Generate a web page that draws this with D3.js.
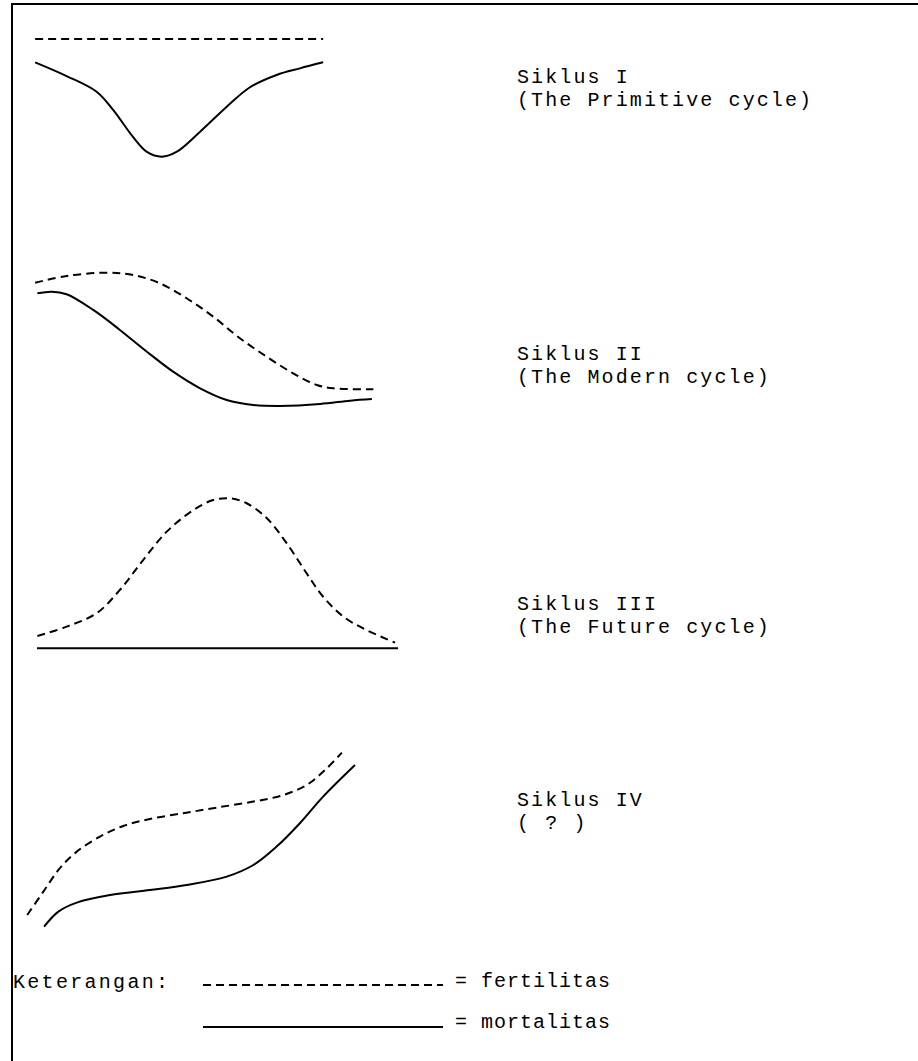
<!DOCTYPE html>
<html><head><meta charset="utf-8">
<script src="https://cdn.jsdelivr.net/npm/d3@7"></script>
<style>html,body{margin:0;padding:0;background:#fff;}svg{display:block;}</style>
</head><body>
<svg id="c" width="918" height="1061"></svg>
<script>
// ---- data (time index 0-100, relative level 0-100) ----
const cycleLabels = ["Siklus I", "Siklus II", "Siklus III", "Siklus IV"];
const cycleSubLabels = ["(The Primitive cycle)", "(The Modern cycle)", "(The Future cycle)", "( ? )"];

const c1FertT = [2.7, 79.5];
const c1FertV = [93.6, 93.6];
const c1MortT = [2.7, 11.1, 19.1, 23.5, 28.8, 32.5, 36.5, 40.5, 46.7, 53.8, 60.0, 67.1, 73.3, 79.5];
const c1MortV = [76.9, 67.1, 55.9, 42.9, 23.6, 12.9, 9.5, 13.1, 27.4, 45.2, 59.1, 67.9, 72.6, 76.9];

const c2FertT = [2.7, 11.1, 21.8, 28.9, 36.0, 43.1, 50.2, 57.3, 64.4, 71.5, 77.8, 82.2, 92.9];
const c2FertV = [85.8, 90.0, 92.1, 90.6, 85.4, 76.1, 64.6, 51.1, 39.6, 29.2, 21.9, 19.8, 19.2];
const c2MortT = [3.3, 7.1, 11.1, 18.2, 25.3, 32.5, 39.5, 46.7, 53.8, 60.9, 68.0, 78.7, 86.7, 92.5];
const c2MortV = [79.2, 80.2, 78.6, 68.8, 56.3, 42.7, 30.2, 19.8, 12.5, 9.4, 8.8, 10.0, 12.1, 13.1];

const c3FertT = [3.3, 11.1, 19.1, 25.3, 31.5, 37.8, 44.9, 50.2, 54.7, 59.1, 64.5, 69.8, 75.1, 79.5, 84.9, 91.1, 98.7];
const c3FertV = [14.1, 19.6, 27.5, 41.2, 58.8, 75.5, 88.2, 94.1, 95.1, 92.2, 83.4, 68.6, 51.0, 37.2, 25.5, 17.6, 10.2];
const c3MortT = [3.2, 99.5];
const c3MortV = [6.9, 6.9];

const c4FertT = [0.6, 4.9, 9.3, 13.8, 20.0, 26.2, 33.3, 42.2, 51.1, 60.9, 68.9, 75.1, 80.0, 84.5];
const c4FertV = [12.5, 24.2, 35.9, 44.2, 51.7, 57.0, 60.5, 63.4, 66.2, 69.2, 72.5, 77.5, 85.0, 93.7];
const c4MortT = [5.1, 8.9, 13.8, 22.7, 33.3, 43.1, 53.8, 60.9, 67.1, 73.3, 79.5, 88.0];
const c4MortV = [6.7, 14.2, 18.7, 22.5, 25.0, 27.5, 31.7, 37.5, 46.7, 58.4, 71.7, 87.5];

const legendLabel = "Keterangan:";
const legendItems = ["= fertilitas", "= mortalitas"];

// ---- layout ----
const svg = d3.select("#c");
const FONT = "'Courier New', 'Liberation Mono', monospace";
const FS = 20;
const x = d3.scaleLinear().domain([0, 100]).range([25, 400]);
const panels = [
  {top: 30, bottom: 170, fert: [c1FertT, c1FertV], mort: [c1MortT, c1MortV], labelY: 83},
  {top: 260, bottom: 420, fert: [c2FertT, c2FertV], mort: [c2MortT, c2MortV], labelY: 360},
  {top: 490, bottom: 660, fert: [c3FertT, c3FertV], mort: [c3MortT, c3MortV], labelY: 610},
  {top: 740, bottom: 940, fert: [c4FertT, c4FertV], mort: [c4MortT, c4MortV], labelY: 806}
];

// frame
svg.append("path").attr("d", "M12,1061V4H918")
  .attr("fill", "none").attr("stroke", "#000").attr("stroke-width", 2);

const zip = (t, v) => t.map((d, i) => [d, v[i]]);

panels.forEach((p, i) => {
  const y = d3.scaleLinear().domain([0, 100]).range([p.bottom, p.top]);
  const line = d3.line().x(d => x(d[0])).y(d => y(d[1])).curve(d3.curveCatmullRom.alpha(0.5));
  svg.append("path").datum(zip(p.fert[0], p.fert[1])).attr("d", line)
    .attr("fill", "none").attr("stroke", "#000").attr("stroke-width", 2)
    .attr("stroke-dasharray", "8,5");
  svg.append("path").datum(zip(p.mort[0], p.mort[1])).attr("d", line)
    .attr("fill", "none").attr("stroke", "#000").attr("stroke-width", 2);
  [cycleLabels[i], cycleSubLabels[i]].forEach((s, k) => {
    svg.append("text").attr("x", 517).attr("y", p.labelY + k * 23)
      .attr("font-family", FONT).attr("font-size", FS).attr("letter-spacing", 2.1)
      .attr("fill", "#000").style("white-space", "pre").text(s);
  });
});

// legend
svg.append("text").attr("x", 13).attr("y", 988).attr("font-family", FONT)
  .attr("font-size", FS).attr("letter-spacing", 2.3).attr("fill", "#000").text(legendLabel);
const lx = d3.scaleLinear().domain([0, 1]).range([203, 443]);
svg.append("line").attr("x1", lx(0)).attr("x2", lx(1)).attr("y1", 985).attr("y2", 985)
  .attr("stroke", "#000").attr("stroke-width", 2).attr("stroke-dasharray", "8,5");
svg.append("line").attr("x1", lx(0)).attr("x2", lx(1)).attr("y1", 1027).attr("y2", 1027)
  .attr("stroke", "#000").attr("stroke-width", 2);
legendItems.forEach((s, i) => {
  svg.append("text").attr("x", 455).attr("y", 987 + i * 41).attr("font-family", FONT)
    .attr("font-size", FS).attr("letter-spacing", 1.0).attr("fill", "#000")
    .style("white-space", "pre").text(s);
});
</script>
</body></html>
